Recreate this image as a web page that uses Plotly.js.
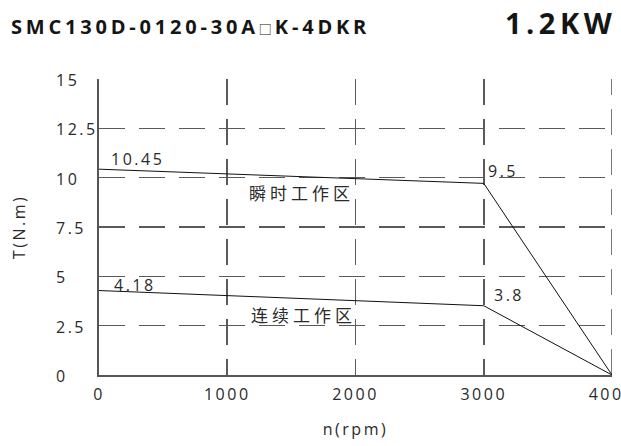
<!DOCTYPE html>
<html>
<head>
<meta charset="utf-8">
<script src="https://cdn.plot.ly/plotly-3.0.1.min.js"></script>
<style>html,body{margin:0;padding:0;background:#fff;}#chart{width:621px;height:446px;}</style>
</head>
<body>
<div id="chart"></div>
<script>
// Data (curve values as drawn, labels as printed)
const speed = [0, 3000, 4000];
const peakTorque = [10.43, 9.71, 0];
const contTorque = [4.28, 3.51, 0];
const peakLabels = ['10.45', '9.5'];
const contLabels = ['4.18', '3.8'];
const xTicks = [0, 1000, 2000, 3000, 4000];
const xTickLabels = ['0', '1000', '2000', '3000', '4000'];
const yTicks = [0, 2.5, 5, 7.5, 10, 12.5, 15];
const yTickLabels = ['0', '2.5', '5', '7.5', '10', '12.5', '15'];
const modelName = ['SMC130D-0120-30A', '□', 'K-4DKR'];
const powerLabel = '1.2KW';
const peakZone = '瞬时工作区';
const contZone = '连续工作区';

const FONT = 'Open Sans, Noto Sans, Noto Sans CJK SC, sans-serif';
const TXT = '#2a2a2a';
const GRID = '#5a5a5a';
const sp = (t, px) => '<span style="letter-spacing:' + px + 'px">' + t + '</span>';

const traces = [
  {x: speed, y: peakTorque, mode: 'lines', line: {color: '#111', width: 1}, hoverinfo: 'skip'},
  {x: speed, y: contTorque, mode: 'lines', line: {color: '#111', width: 1}, hoverinfo: 'skip'}
];

const annotations = [];
const numFont = {family: FONT, size: 16, color: TXT};
yTicks.forEach((v, i) => {
  annotations.push({x: 0, y: v, xref: 'x', yref: 'y', text: sp(yTickLabels[i], 2.5), showarrow: false,
    xanchor: 'left', yanchor: 'middle', xshift: -45, yshift: -1, font: numFont});
});
// point value labels (anchored to the curve points)
const valLabel = (x, y, text, dx, dy) => annotations.push({x: x, y: y, xref: 'x', yref: 'y', text: sp(text, 2.5),
  showarrow: false, xanchor: 'left', yanchor: 'middle', xshift: dx, yshift: dy, font: numFont});
valLabel(speed[0], peakTorque[0], peakLabels[0], 10, 10);
valLabel(speed[1], peakTorque[1], peakLabels[1], 2, 12);
valLabel(speed[0], contTorque[0], contLabels[0], 13, 6);
valLabel(speed[1], contTorque[1], contLabels[1], 8, 11);
// zone labels
annotations.push({x: 2000, y: 9.25, xref: 'x', yref: 'y', text: sp(peakZone, 4), showarrow: false,
  xanchor: 'right', yanchor: 'middle', xshift: 0, font: {family: 'Noto Sans CJK SC', size: 17, color: TXT}});
annotations.push({x: 2000, y: 3.07, xref: 'x', yref: 'y', text: sp(contZone, 4), showarrow: false,
  xanchor: 'right', yanchor: 'middle', xshift: 2, font: {family: 'Noto Sans CJK SC', size: 17, color: TXT}});
// header
annotations.push({x: 0, y: 1, xref: 'paper', yref: 'paper',
  text: '<b>' + sp(modelName[0], 3.8) + '<span style="font-size:13px;font-weight:normal;letter-spacing:3px">' + modelName[1] + '</span>' + sp(modelName[2], 3.8) + '</b>',
  showarrow: false, xanchor: 'left', yanchor: 'middle', xshift: -90, yshift: 53, font: {family: FONT, size: 20, color: '#151515'}});
annotations.push({x: 1, y: 1, xref: 'paper', yref: 'paper', text: '<b>' + sp(powerLabel, 4.5) + '</b>', showarrow: false,
  xanchor: 'right', yanchor: 'middle', xshift: 6, yshift: 57, font: {family: FONT, size: 29, color: '#151515'}});

const gridStyle = {showgrid: true, gridcolor: GRID, gridwidth: 1.6, griddash: '26px,14px'};

// right-edge grid line at the last x tick (Plotly skips the grid line at the range end)
const xMax = xTicks[xTicks.length - 1];
const shapes = [{type: 'line', xref: 'x', yref: 'y', x0: xMax, x1: xMax, y0: yTicks[0], y1: yTicks[yTicks.length - 1],
  line: {color: GRID, width: 1.6, dash: '26px,14px'}, layer: 'below'}];

const layout = {
  width: 621, height: 446,
  margin: {l: 99, r: 9, t: 79, b: 71},
  paper_bgcolor: '#fff', plot_bgcolor: '#fff',
  showlegend: false,
  xaxis: Object.assign({
    range: [0, 4000], tickvals: xTicks, ticktext: xTickLabels.map(t => sp(t, 2.5)),
    ticklabeloverflow: 'allow', ticklabelstandoff: 4,
    showline: true, linecolor: '#555', linewidth: 1.6, zeroline: false, ticks: '',
    tickfont: numFont,
    title: {text: sp('n(rpm)', 2.5), font: {family: FONT, size: 16, color: TXT}, standoff: 20}
  }, gridStyle),
  yaxis: Object.assign({
    range: [0, 15], tickvals: yTicks, showticklabels: false,
    showline: true, linecolor: '#555', linewidth: 1.6, zeroline: false, ticks: '',
    title: {text: sp('T(N.m)', 2.5), font: {family: FONT, size: 16, color: TXT}, standoff: 68}
  }, gridStyle),
  shapes: shapes,
  annotations: annotations
};

Plotly.newPlot('chart', traces, layout, {staticPlot: true, displayModeBar: false});
</script>
</body>
</html>
